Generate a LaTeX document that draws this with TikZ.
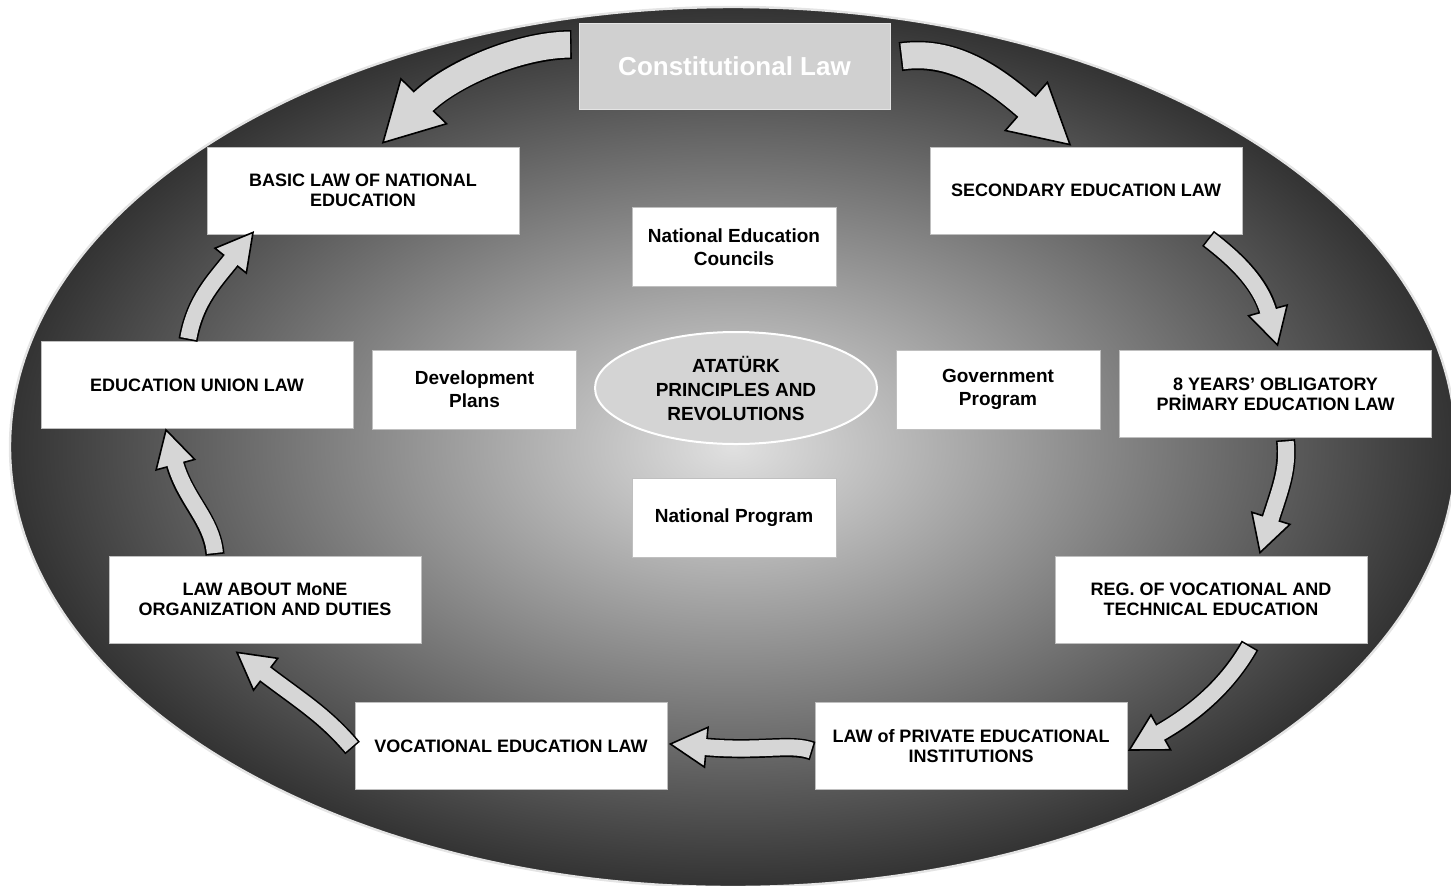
\documentclass[tikz,border=0pt]{standalone}
\usepackage{fontspec}
\setmainfont{Liberation Sans}
\usepackage{tikz}
\usetikzlibrary{positioning,calc,decorations.markings,shapes.geometric}
\definecolor{arrowgray}{RGB}{214,214,214}
\definecolor{constgray}{RGB}{208,208,208}
\definecolor{rimgray}{RGB}{228,228,228}
\tikzset{
  lawbox/.style ={draw=black!25, fill=white, align=center, inner sep=2pt,
                  font=\bfseries\fontsize{9}{10}\selectfont,
                  minimum width=156pt, minimum height=43.5pt},
  planbox/.style={draw=black!25, fill=white, align=center, inner sep=2pt,
                  font=\bfseries\fontsize{9.5}{11.5}\selectfont,
                  minimum width=102pt, minimum height=39.5pt},
  arrowhd/.style={draw=black, fill=arrowgray, line width=0.8pt, line join=miter},
}
% block arrow: shaft width, head length, head half width, path
\newcommand{\flow}[4]{%
  \draw[line width=#1+1.6pt, black, shorten >=#2-0.5pt] #4;
  \path[decorate, decoration={markings,
        mark=at position 1 with {\draw[arrowhd] (-#2,-#3) -- (0pt,0pt) -- (-#2,#3) -- cycle;}}] #4;
  \draw[line width=#1, arrowgray, shorten >=#2-1.5pt, shorten <=0.8pt] #4;
}

\begin{document}
\begin{tikzpicture}[x=0.5pt,y=-0.5pt]
\useasboundingbox (0,0) rectangle (1451,885);

% background
\begin{scope}
\clip (0,0) rectangle (1451,885);
\shade[inner color=black!12, outer color=black!80] (733,447) ellipse [x radius=723, y radius=440];
\draw[rimgray, line width=1.2pt] (733,447) ellipse [x radius=723, y radius=440];
\end{scope}

% laws round the ring
\node[draw=black!10, fill=constgray, text=white, minimum width=155.5pt, minimum height=43pt,
      font=\bfseries\fontsize{13}{15}\selectfont] (const) at (734.5,66) {Constitutional Law};
\node[lawbox] (basic) at (363,190.5) {BASIC LAW OF NATIONAL\\EDUCATION};
\node[lawbox] (secondary) at (1086,190.5) {SECONDARY EDUCATION LAW};
\node[lawbox] (union) at (197,385) {EDUCATION UNION LAW};
\node[lawbox] (eightyears) at (1275.5,394) {8 YEARS’ OBLIGATORY\\PRİMARY EDUCATION LAW};
\node[lawbox] (mone) at (265,599.5) {LAW ABOUT MoNE\\ORGANIZATION AND DUTIES};
\node[lawbox] (reg) at (1211,599.5) {REG. OF VOCATIONAL AND\\TECHNICAL EDUCATION};
\node[lawbox] (vocational) at (511,746) {VOCATIONAL EDUCATION LAW};
\node[lawbox] (private) at (971,746) {LAW of PRIVATE EDUCATIONAL\\INSTITUTIONS};

% inner ring
\node[planbox] (councils) at (734,247) {National Education\\Councils};
\node[planbox] (devplans) at (474.5,389.5) {Development\\Plans};
\node[planbox] (govprog) at (998,389.5) {Government\\Program};
\node[planbox] (natprog) at (734,517.5) {National Program};
\node[ellipse, draw=white, line width=1pt, fill=black!17, align=center, inner sep=0pt,
      minimum width=141pt, minimum height=56pt,
      font=\bfseries\fontsize{9.5}{12}\selectfont] (core) at (736,388) {ATATÜRK\\PRINCIPLES AND\\REVOLUTIONS};

% arrow ends
\coordinate (t1) at ($(const.north west)+(-7,22)$);
\coordinate (h1) at ($(basic.north)+(20,-4)$);
\coordinate (t2) at ($(const.north east)+(10,34)$);
\coordinate (h2) at ($(secondary.north)+(-16,-2)$);
\coordinate (t3) at ($(secondary.south)+(122,4)$);
\coordinate (h3) at ($(eightyears.north)+(2,-5)$);
\coordinate (t4) at ($(eightyears.south)+(10,2)$);
\coordinate (h4) at ($(reg.north)+(49,-3)$);
\coordinate (t5) at ($(reg.south)+(39,2)$);
\coordinate (h5) at ($(private.east)+(2,4)$);
\coordinate (t6) at ($(private.west)+(-2,5)$);
\coordinate (h6) at ($(vocational.east)+(3,-2)$);
\coordinate (t7) at ($(vocational.west)+(-2,2)$);
\coordinate (h7) at ($(mone.south)+(-28,9)$);
\coordinate (t8) at ($(mone.north)+(-50,-1)$);
\coordinate (h8) at ($(union.south)+(-31,1)$);
\coordinate (t9) at ($(union.north)+(-9,-1)$);
\coordinate (h9) at ($(basic.south)+(-110,-2)$);

% arrows
\flow{13pt}{29pt}{16pt}{(t1) .. controls +(-52,0) and +(67,-68) .. (h1)}
\flow{13pt}{29pt}{16pt}{(t2) .. controls +(50,-7) and +(-80,-70) .. (h2)}
\flow{8pt}{18pt}{10pt}{(t3) .. controls +(22,17) and +(-18,-65) .. (h3)}
\flow{8pt}{18pt}{10pt}{(t4) .. controls +(3,30) and +(20,-63) .. (h4)}
\flow{8pt}{18pt}{10pt}{(t5) .. controls +(-20,35) and +(71,-40) .. (h5)}
\flow{8pt}{18pt}{10pt}{(t6) .. controls +(-22,-8) and +(90,8) .. (h6)}
\flow{8pt}{18pt}{10pt}{(t7) .. controls +(-28,-33) and +(63,48) .. (h7)}
\flow{8pt}{18pt}{10pt}{(t8) .. controls +(-3,-35) and +(19,70) .. (h8)}
\flow{8pt}{18pt}{10pt}{(t9) .. controls +(7,-40) and +(-38,48) .. (h9)}
\end{tikzpicture}
\end{document}
